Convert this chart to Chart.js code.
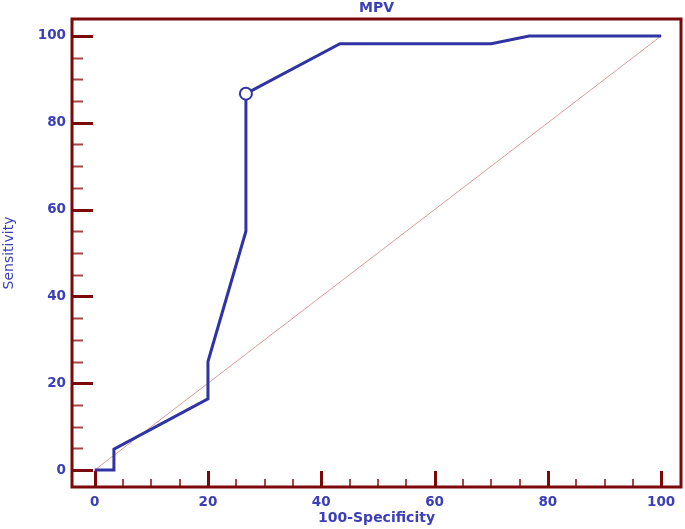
<!DOCTYPE html>
<html>
<head>
<meta charset="utf-8">
<script src="https://cdn.jsdelivr.net/npm/chart.js@4.4.0/dist/chart.umd.min.js"></script>
<style>
  html, body { margin: 0; padding: 0; background: #fff; }
</style>
</head>
<body>
<canvas id="rocChart" width="685" height="529"></canvas>
<script>
// ROC curve
const specComplement = [0, 3.4, 3.4, 20, 20, 26.7, 26.7, 43.3, 70, 76.7, 100]; // 100-Specificity
const sensitivity    = [0, 0, 4.8, 16.4, 25, 55, 86.7, 98.2, 98.2, 100, 100];
const criterionIndex = 6; // the open circle
const diagonalX = [0, 100];
const diagonalY = [0, 100];
const xTickValues = [0, 20, 40, 60, 80, 100];
const yTickValues = [0, 20, 40, 60, 80, 100];
const minorTickValues = [5, 10, 15, 25, 30, 35, 45, 50, 55, 65, 70, 75, 85, 90, 95];
const chartTitle = 'MPV';

const blue = '#2f33a3';
const textBlue = '#3c40b8';
const frameRed = '#7a0a0a';
const minorRed = '#a34848';

Chart.defaults.font.family = '"DejaVu Sans", sans-serif';

// frame around the plot, the inward pointing ticks and the title over the plot
const frameTicks = {
  id: 'frameTicks',
  beforeDatasetsDraw(chart) {
    const { ctx, chartArea: a, scales: { x, y } } = chart;
    ctx.save();
    // minor ticks
    ctx.strokeStyle = minorRed;
    ctx.lineWidth = 2;
    minorTickValues.forEach(v => {
      const py = Math.round(y.getPixelForValue(v)) + 0.5;
      ctx.beginPath(); ctx.moveTo(a.left, py); ctx.lineTo(a.left + 11, py); ctx.stroke();
      const px = Math.round(x.getPixelForValue(v));
      ctx.beginPath(); ctx.moveTo(px, a.bottom); ctx.lineTo(px, a.bottom - 8); ctx.stroke();
    });
    // major ticks
    ctx.strokeStyle = frameRed;
    ctx.lineWidth = 3;
    yTickValues.forEach(v => {
      const py = Math.round(y.getPixelForValue(v)) + 0.5;
      ctx.beginPath(); ctx.moveTo(a.left, py); ctx.lineTo(a.left + 21, py); ctx.stroke();
    });
    xTickValues.forEach(v => {
      const px = Math.round(x.getPixelForValue(v)) + 0.5;
      ctx.beginPath(); ctx.moveTo(px, a.bottom); ctx.lineTo(px, a.bottom - 16); ctx.stroke();
    });
    // frame
    ctx.strokeRect(a.left, a.top, a.right - a.left, a.bottom - a.top);
    // title centred on the plot area
    ctx.fillStyle = textBlue;
    ctx.font = 'bold 14px "DejaVu Sans", sans-serif';
    ctx.textAlign = 'center';
    ctx.textBaseline = 'middle';
    ctx.fillText(chartTitle, (a.left + a.right) / 2, 8);
    ctx.restore();
  }
};

new Chart(document.getElementById('rocChart'), {
  type: 'line',
  data: {
    datasets: [
      {
        label: chartTitle,
        data: specComplement.map((v, i) => ({ x: v, y: sensitivity[i] })),
        borderColor: blue,
        borderWidth: 3,
        tension: 0,
        fill: false,
        pointRadius: specComplement.map((v, i) => i === criterionIndex ? 6 : 0),
        pointBackgroundColor: '#ffffff',
        pointBorderColor: blue,
        pointBorderWidth: 2,
        order: 0
      },
      {
        label: 'reference',
        data: diagonalX.map((v, i) => ({ x: v, y: diagonalY[i] })),
        borderColor: '#d99a9a',
        borderWidth: 1,
        pointRadius: 0,
        fill: false,
        order: 1
      }
    ]
  },
  options: {
    responsive: false,
    animation: false,
    devicePixelRatio: 1,
    layout: { padding: { right: 4, left: 0, top: 19, bottom: 0 } },
    plugins: {
      legend: { display: false },
      tooltip: { enabled: false },
      title: { display: false }
    },
    scales: {
      x: {
        type: 'linear',
        min: -4,
        max: 103.5,
        afterBuildTicks: axis => { axis.ticks = xTickValues.map(v => ({ value: v })); },
        afterFit: axis => { axis.height = 42; },
        grid: { display: false, drawTicks: false },
        border: { display: false },
        ticks: { color: textBlue, font: { size: 13.5, weight: 'bold' }, padding: 7, maxRotation: 0 },
        title: {
          display: true,
          text: '100-Specificity',
          color: textBlue,
          font: { size: 14, weight: 'bold' },
          padding: { top: 0, bottom: 2 }
        }
      },
      y: {
        type: 'linear',
        min: -3.9,
        max: 103.9,
        afterBuildTicks: axis => { axis.ticks = yTickValues.map(v => ({ value: v })); },
        afterFit: axis => { axis.width = 72; },
        grid: { display: false, drawTicks: false },
        border: { display: false },
        ticks: { color: textBlue, font: { size: 13.5, weight: 'bold' }, padding: 6 },
        title: {
          display: true,
          text: 'Sensitivity',
          color: textBlue,
          font: { size: 14 },
          padding: { top: 1, bottom: 0 }
        }
      }
    }
  },
  plugins: [frameTicks]
});
</script>
</body>
</html>
